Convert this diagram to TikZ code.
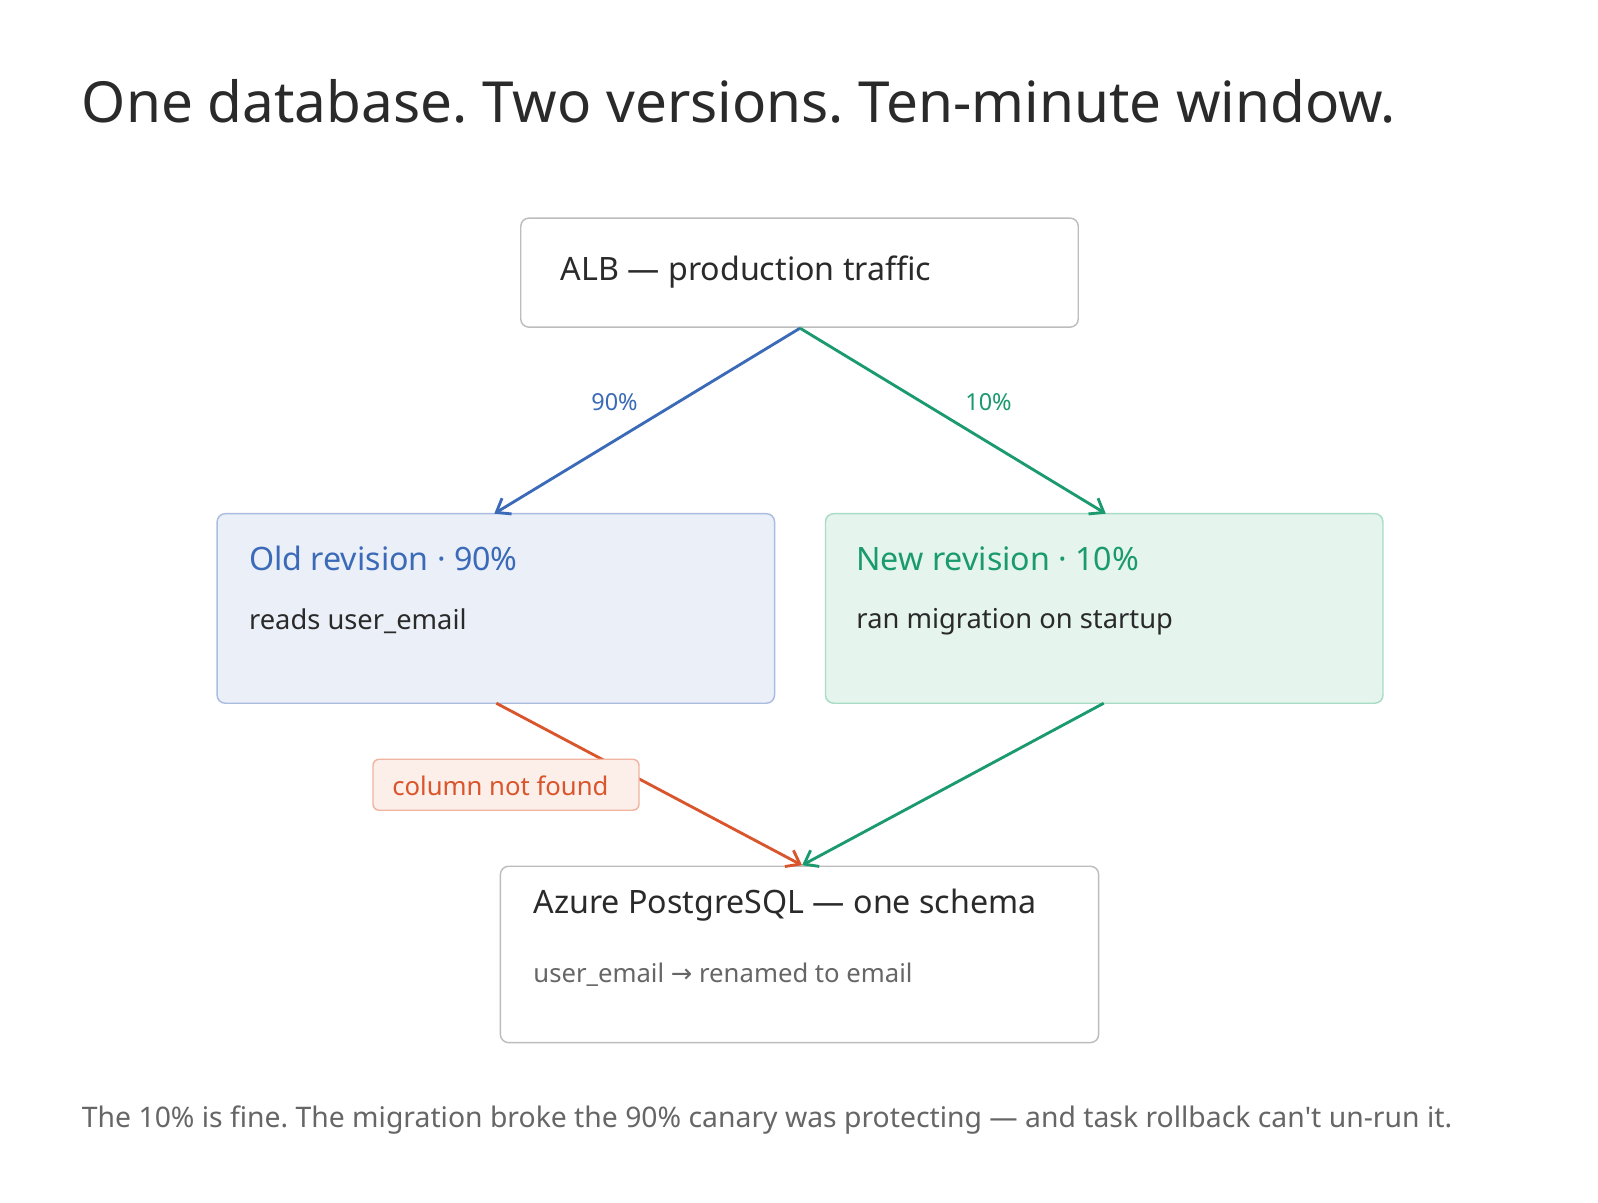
\documentclass[tikz,border=0pt]{standalone}
\usepackage{fontspec}
\setmainfont{Noto Sans}
\newfontfamily\arrfont{DejaVu Sans}
\usetikzlibrary{arrows.meta}
\definecolor{ink}{HTML}{2A2A2A}
\definecolor{blu}{HTML}{3B6BB8}
\definecolor{grn}{HTML}{1A9A6E}
\definecolor{rd}{HTML}{D9552B}
\definecolor{gry}{HTML}{666666}
\definecolor{bdr}{HTML}{BDBDBD}
\definecolor{oldS}{HTML}{A9BDE0}
\definecolor{oldF}{HTML}{EBEFF7}
\definecolor{newS}{HTML}{A8DCC4}
\definecolor{newF}{HTML}{E5F5EE}
\definecolor{cnS}{HTML}{F0B4A0}
\definecolor{cnF}{HTML}{FCEFEA}
\frenchspacing
\begin{document}
\begin{tikzpicture}[x=0.5pt,y=-0.5pt,
  box/.style={draw=#1,rounded corners=4pt,line width=0.7pt},
  txt/.style={anchor=west,inner sep=0pt},
  arr/.style={line width=1.4pt,->,>={Straight Barb[length=6pt,width=9pt]}}]
\useasboundingbox[fill=white] (0,0) rectangle (1568,1180);
\node[txt,text=ink,font=\fontsize{27.8}{32}\selectfont] (title) at (80,99) {One database. Two versions. Ten-minute window.};
\draw[box=bdr,fill=white] (511,214) rectangle (1058,321);
\coordinate (albT) at (785,322);
\node[txt,text=ink,font=\fontsize{15.8}{18}\selectfont] (alb) at (550,267) {ALB — production traffic};
\draw[box=oldS,fill=oldF] (213,504) rectangle (760,690);
\node[txt,text=blu,font=\fontsize{15.8}{18}\selectfont] (oldt) at (244,548) {Old revision · 90\%};
\node[txt,text=ink,font=\fontsize{13.4}{16}\selectfont] (olds) at (244,610) {reads user\_email};
\draw[box=newS,fill=newF] (810,504) rectangle (1357,690);
\node[txt,text=grn,font=\fontsize{15.8}{18}\selectfont] (newt) at (840,548) {New revision · 10\%};
\node[txt,text=ink,font=\fontsize{13.4}{16}\selectfont] (news) at (840,610) {ran migration on startup};
\draw[box=bdr,fill=white] (491,850) rectangle (1078,1023);
\node[txt,text=ink,font=\fontsize{15.8}{18}\selectfont] (dbt) at (523,888) {Azure PostgreSQL — one schema};
\node[txt,text=gry,font=\fontsize{12.6}{15}\selectfont] (dbs) at (523,956) {user\_email {\arrfont →} renamed to email};
\coordinate (oldT) at (485,504); \coordinate (newT) at (1085,504);
\coordinate (oldB) at (487,690); \coordinate (newB) at (1083,690);
\coordinate (dbT) at (787,849);
\draw[arr,blu] (albT) -- (oldT);
\draw[arr,grn] (albT) -- (newT);
\node[text=blu,font=\fontsize{11.5}{13}\selectfont] (p90) at (603,395) {90\%};
\node[text=grn,font=\fontsize{11.5}{13}\selectfont] (p10) at (970,395) {10\%};
\draw[arr,rd] (oldB) -- (dbT);
\draw[arr,grn] (newB) -- (dbT);
\draw[box=cnS,fill=cnF,rounded corners=3pt] (366,745) rectangle (627,795);
\node[text=rd,font=\fontsize{12.6}{15}\selectfont] (cnf) at (491,771) {column not found};
\node[txt,text=gry,font=\fontsize{13.9}{16}\selectfont] (foot) at (80,1099) {The 10\% is fine. The migration broke the 90\% canary was protecting — and task rollback can\textquotesingle t un-run it.};
\end{tikzpicture}
\end{document}
